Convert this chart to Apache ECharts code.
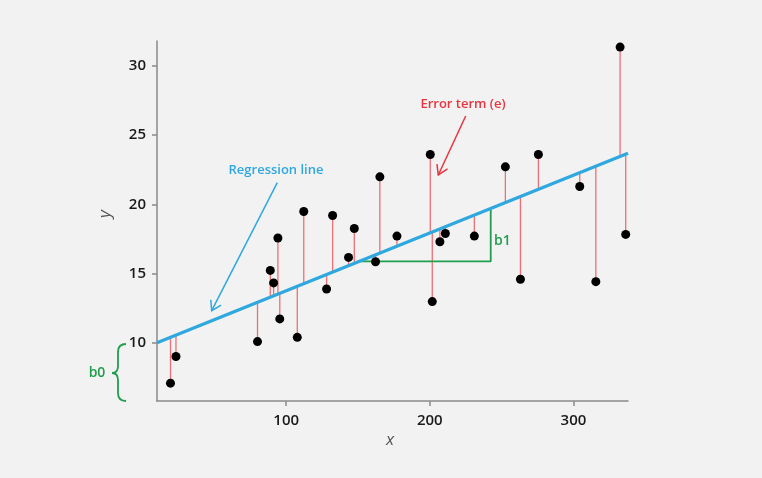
<!DOCTYPE html>
<html>
<head>
<meta charset="utf-8">
<script src="https://cdn.jsdelivr.net/npm/echarts@6/dist/echarts.min.js"></script>
<style>
html,body{margin:0;padding:0;background:#f2f2f2;}
#c{width:762px;height:478px;}
</style>
</head>
<body>
<div id="c"></div>
<script>
// ---- data ----
var pointX = [19.4, 23.2, 80.0, 88.9, 91.2, 94.2, 95.5, 107.7, 112.2, 128.1, 132.3, 143.4, 147.4, 162.2,
              165.2, 177.1, 200.3, 201.7, 207.0, 210.8, 231.0, 252.6, 263.1, 275.6, 304.4, 315.6, 332.5, 336.4];
var pointY = [7.09, 9.01, 10.09, 15.23, 14.33, 17.57, 11.73, 10.40, 19.49, 13.89, 19.20, 16.17, 18.26, 15.86,
              21.99, 17.71, 23.60, 12.98, 17.30, 17.90, 17.71, 22.71, 14.59, 23.60, 21.29, 14.42, 31.36, 17.83];
var lineX = [10, 338];
var lineY = [10, 23.7];
var slopeX = [151, 242.4, 242.4];
var slopeY = [15.88, 15.88, 19.69];
var xTicks = [100, 200, 300];
var yTicks = [10, 15, 20, 25, 30];

var X0 = lineX[0], B0 = lineY[0];
var B1 = (lineY[1] - lineY[0]) / (lineX[1] - lineX[0]);

var points = pointX.map(function (x, i) { return [x, pointY[i]]; });
var regLine = lineX.map(function (x, i) { return [x, lineY[i]]; });
var slopeLine = slopeX.map(function (x, i) { return [x, slopeY[i]]; });

var RED = '#e8343f', RED_LINE = '#ee6f74', GREEN = '#1f9e4c', BLUE = '#2ea8df';
var FONT = '"Open Sans", "Noto Sans", sans-serif';

function arrow(x1, y1, x2, y2, color, len) {
  var dx = x2 - x1, dy = y2 - y1, L = Math.sqrt(dx * dx + dy * dy);
  var ux = dx / L, uy = dy / L, a = 32 * Math.PI / 180;
  function rot(ang) {
    var c = Math.cos(ang), s = Math.sin(ang);
    return [x2 - len * (ux * c - uy * s), y2 - len * (ux * s + uy * c)];
  }
  return [
    { type: 'line', shape: { x1: x1, y1: y1, x2: x2, y2: y2 }, style: { stroke: color, lineWidth: 1.5 } },
    { type: 'polyline', shape: { points: [rot(a), [x2, y2], rot(-a)] }, style: { stroke: color, lineWidth: 1.5, fill: null } }
  ];
}
function gstroke() { return { stroke: GREEN, lineWidth: 1.8, fill: null }; }
var brace = [
  { type: 'bezierCurve', shape: { x1: 126, y1: 344, cpx1: 118, cpy1: 344, x2: 118, y2: 352 }, style: gstroke() },
  { type: 'line', shape: { x1: 118, y1: 352, x2: 118, y2: 366 }, style: gstroke() },
  { type: 'bezierCurve', shape: { x1: 118, y1: 366, cpx1: 118, cpy1: 373, x2: 112, y2: 373 }, style: gstroke() },
  { type: 'bezierCurve', shape: { x1: 112, y1: 373, cpx1: 118, cpy1: 373, x2: 118, y2: 380 }, style: gstroke() },
  { type: 'line', shape: { x1: 118, y1: 380, x2: 118, y2: 393 }, style: gstroke() },
  { type: 'bezierCurve', shape: { x1: 118, y1: 393, cpx1: 118, cpy1: 401, x2: 126, y2: 401 }, style: gstroke() }
];

var chart = echarts.init(document.getElementById('c'), null, { renderer: 'canvas' });
var option = {
  backgroundColor: '#f2f2f2',
  animation: false,
  grid: { left: 157, right: 134, top: 41, bottom: 77 },
  xAxis: {
    type: 'value', min: 10, max: 338,
    splitLine: { show: false },
    axisLine: { show: true, lineStyle: { color: '#8a8a8a', width: 1.5 } },
    axisTick: { show: true, length: 5, customValues: xTicks, lineStyle: { color: '#8a8a8a', width: 1.5 } },
    axisLabel: { customValues: xTicks, color: '#1a1a1a', fontSize: 15, fontWeight: 600, fontFamily: FONT, margin: 12 }
  },
  yAxis: {
    type: 'value', min: 5.8, max: 31.8,
    splitLine: { show: false },
    axisLine: { show: true, lineStyle: { color: '#8a8a8a', width: 1.5 } },
    axisTick: { show: true, length: 5, customValues: yTicks, lineStyle: { color: '#8a8a8a', width: 1.5 } },
    axisLabel: { customValues: yTicks, color: '#1a1a1a', fontSize: 15, fontWeight: 600, fontFamily: FONT, margin: 11 }
  },
  series: [
    {
      type: 'custom', z: 2, silent: true,
      data: points,
      renderItem: function (params, api) {
        var x = api.value(0), y = api.value(1);
        var p1 = api.coord([x, y]);
        var p2 = api.coord([x, B0 + B1 * (x - X0)]);
        return { type: 'line', shape: { x1: p1[0], y1: p1[1], x2: p2[0], y2: p2[1] },
                 style: { stroke: RED_LINE, lineWidth: 1.3 } };
      }
    },
    {
      type: 'line', z: 3, data: slopeLine, symbol: 'none',
      lineStyle: { color: GREEN, width: 1.8 }
    },
    {
      type: 'line', z: 4, data: regLine, symbol: 'none',
      lineStyle: { color: BLUE, width: 3.2 }
    },
    {
      type: 'scatter', z: 5, data: points, symbol: 'circle', symbolSize: 9,
      itemStyle: { color: '#000', opacity: 1 }
    }
  ],
  graphic: [
    { type: 'text', x: 276, y: 170, style: { text: 'Regression line', fill: BLUE, font: '600 13px ' + FONT, align: 'center', verticalAlign: 'middle' } },
    { type: 'text', x: 463, y: 104, style: { text: 'Error term (e)', fill: RED, font: '600 13px ' + FONT, align: 'center', verticalAlign: 'middle' } },
    { type: 'text', x: 494, y: 241, style: { text: 'b1', fill: GREEN, font: '600 14px ' + FONT, align: 'left', verticalAlign: 'middle' } },
    { type: 'text', x: 97, y: 373, style: { text: 'b0', fill: GREEN, font: '600 14px ' + FONT, align: 'center', verticalAlign: 'middle' } },
    { type: 'text', x: 390, y: 440, style: { text: 'x', fill: '#555', font: 'italic 17px ' + FONT, align: 'center', verticalAlign: 'middle' } },
    { type: 'text', x: 105, y: 214, rotation: Math.PI / 2, style: { text: 'y', fill: '#555', font: 'italic 17px ' + FONT, align: 'center', verticalAlign: 'middle' } }
  ].concat(brace)
   .concat(arrow(277.3, 182.7, 211.7, 310.7, BLUE, 11))
   .concat(arrow(465.7, 116, 438.3, 175, RED, 11))
};
chart.setOption(option);
</script>
</body>
</html>
